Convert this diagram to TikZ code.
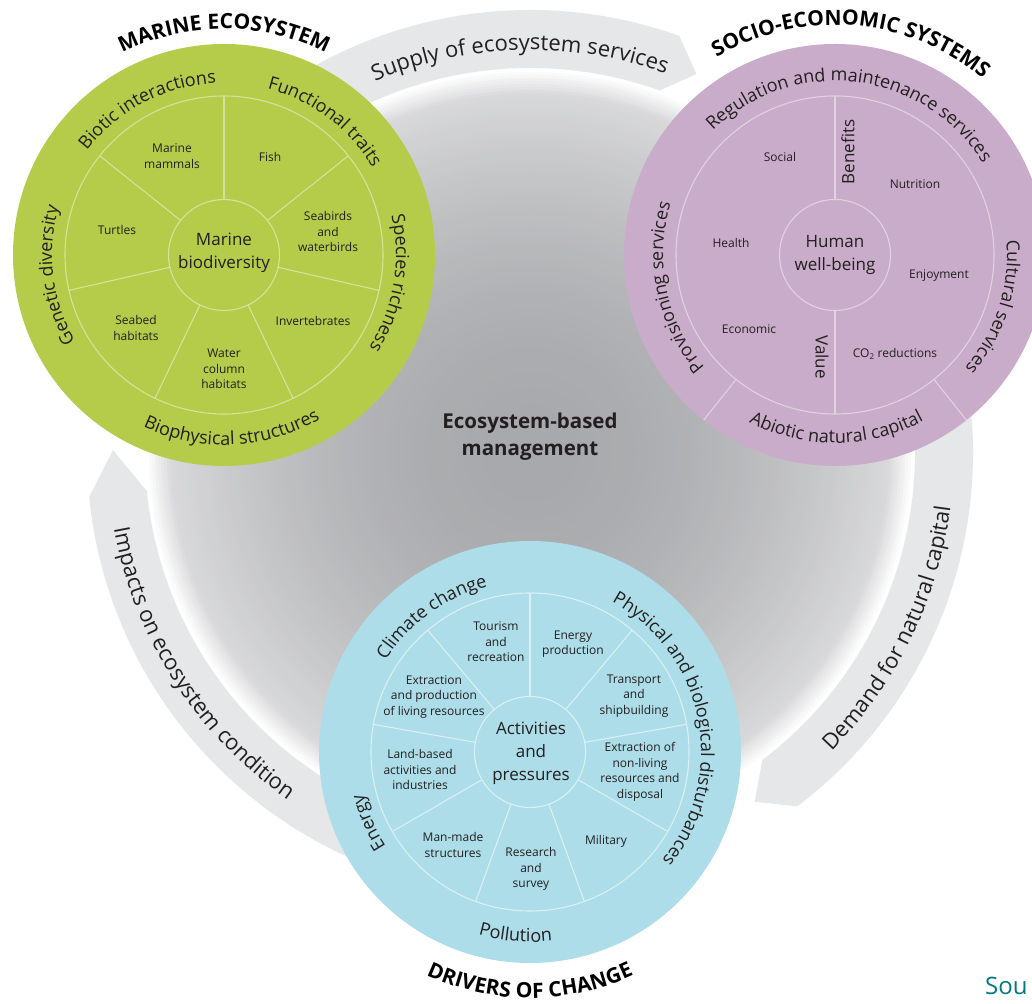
\documentclass[tikz,border=0pt]{standalone}
\usepackage{fontspec}
\setmainfont{Open Sans}
\usetikzlibrary{decorations.text}
\definecolor{ink}{RGB}{35,31,32}
\definecolor{mgreen}{RGB}{181,203,74}
\definecolor{mpink}{RGB}{201,172,201}
\definecolor{mblue}{RGB}{172,221,232}
\definecolor{bandgray}{RGB}{230,231,232}
\definecolor{ebmdark}{RGB}{168,169,172}
\definecolor{srcteal}{RGB}{0,122,128}
\newcommand{\fsSmall}{\fontsize{12}{15.5}\selectfont}
\newcommand{\fsCentre}{\fontsize{17}{23}\selectfont}
\newcommand{\fsRing}{\fontsize{18}{22}\selectfont}
\newcommand{\fsBand}{\fontsize{22}{26}\selectfont}
\newcommand{\fsHead}{\fontsize{21}{25}\selectfont\bfseries}
\newcommand{\fsEbm}{\fontsize{20.5}{27}\selectfont\bfseries}
% curved text: centre, radius, mid angle, half span, text
\newcommand{\cwtext}[5]{%
  \path[shift={(#1)}, decorate, decoration={text along path, text align=center, text={#5}}]
    ({#3+#4}:#2) arc[start angle={#3+#4}, end angle={#3-#4}, radius=#2];}
\newcommand{\ccwtext}[5]{%
  \path[shift={(#1)}, decorate, decoration={text along path, text align=center, text={#5}}]
    ({#3-#4}:#2) arc[start angle={#3-#4}, end angle={#3+#4}, radius=#2];}
\tikzset{
  disc/.style={circle, minimum size=422pt, inner sep=0pt, draw=none},
  inlab/.style={font=\fsSmall, text=ink, align=center, inner sep=0pt},
  ctrlab/.style={font=\fsCentre, text=ink, align=center, inner sep=0pt},
  band/.style={fill=bandgray, draw=none},
  gsep/.style={draw=mgreen!55!white, line width=1.1pt},
  psep/.style={draw=mpink!55!white, line width=1.1pt},
  bsep/.style={draw=mblue!45!white, line width=1.1pt},
}
\begin{document}
\begin{tikzpicture}[x=1pt, y=1pt]
\useasboundingbox (0,0) rectangle (1032,1003);
\fill[white] (0,0) rectangle (1032,1003);
\coordinate (C) at (530,550);
% gradient disc
\foreach \r in {387,384,...,3} {
  \pgfmathtruncatemacro\pp{\r<=360 ? 56*(\r/360)^2 : min(100, 56+44*(\r-360)/24)}
  \fill[white!\pp!ebmdark] (C) circle[radius=\r];
}
% bands (arrows)
\fill[band, shift={(C)}] (150:443) arc[start angle=150, end angle=70.3, radius=443]
  -- (66.3:414) -- (70.3:385) arc[start angle=70.3, end angle=150, radius=385] -- cycle;
\fill[band, shift={(C)}] (30:443) arc[start angle=30, end angle=-52.9, radius=443]
  -- (-57.2:415) -- (-52.9:385) arc[start angle=-52.9, end angle=30, radius=385] -- cycle;
\fill[band, shift={(C)}] (-90:443) arc[start angle=-90, end angle=-174.3, radius=443]
  -- (-180.4:417) -- (-174.3:385) arc[start angle=-174.3, end angle=-90, radius=385] -- cycle;
\cwtext{C}{403}{91.5}{35}{|\fsBand\color{ink}|Supply of ecosystem services}
\ccwtext{C}{424}{-26}{35}{|\fsBand\color{ink}|Demand for natural capital}
\ccwtext{C}{423}{212.7}{38}{|\fsBand\color{ink}|Impacts on ecosystem condition}
% discs
\node[disc, fill=mgreen] (G) at (224,748) {};
\node[disc, fill=mpink] (P) at (835,748) {};
\node[disc, fill=mblue] (B) at (530,251) {};
% green structure
\draw[gsep] (G) circle[radius=159];
\draw[gsep] (G) circle[radius=55.5];
\foreach \k in {0,...,6} {
  \draw[gsep, shift={(G)}] ({90-\k*360/7}:55.5) -- ({90-\k*360/7}:159);
}
% pink structure
\draw[psep] (P) circle[radius=159];
\draw[psep] (P) circle[radius=55.5];
\draw[psep, shift={(P)}] (90:55.5) -- (90:159);
\draw[psep, shift={(P)}] (270:55.5) -- (270:159);
\draw[psep, shift={(P)}] (-128.5:159) -- (-128.5:211);
\draw[psep, shift={(P)}] (-51.5:159) -- (-51.5:211);
% blue structure
\draw[bsep] (B) circle[radius=159];
\draw[bsep] (B) circle[radius=55.5];
\foreach \a in {90,50,10,-30,-70,-110,-150,170,130} {
  \draw[bsep, shift={(B)}] (\a:55.5) -- (\a:159);
}
% green labels
\node[ctrlab] (gctr) at (224,750) {Marine\\biodiversity};
\node[inlab] (gmam) at (172,847) {Marine\\mammals};
\node[inlab] (gfish) at (270,846) {Fish};
\node[inlab] (gbird) at (328,771) {Seabirds\\and\\waterbirds};
\node[inlab] (ginv) at (313,682) {Invertebrates};
\node[inlab] (gwat) at (224,634) {Water\\column\\habitats};
\node[inlab] (gsea) at (136,675) {Seabed\\habitats};
\node[inlab] (gtur) at (117,773) {Turtles};
\cwtext{G}{172}{117.7}{50}{|\fsRing\color{ink}|Biotic interactions}
\cwtext{G}{172}{52.9}{50}{|\fsRing\color{ink}|Functional traits}
\cwtext{G}{172}{-9.6}{50}{|\fsRing\color{ink}|Species richness}
\cwtext{G}{172}{187}{50}{|\fsRing\color{ink}|Genetic diversity}
\ccwtext{G}{190}{-87.4}{55}{|\fsRing\color{ink}|Biophysical structures}
\cwtext{G}{226}{90}{60}{|\fsHead\color{black}|MARINE ECOSYSTEM}
% pink labels
\node[ctrlab] (pctr) at (835,748) {Human\\well-being};
\node[inlab] (psoc) at (780,846) {Social};
\node[inlab, font=\fontsize{17}{20}\selectfont, rotate=90] (pben) at (848,851) {Benefits};
\node[inlab] (pnut) at (915,819) {Nutrition};
\node[inlab] (phea) at (731,760) {Health};
\node[inlab] (penj) at (939,727) {Enjoyment};
\node[inlab] (peco) at (749,674) {Economic};
\node[inlab, font=\fontsize{17}{20}\selectfont, rotate=-90] (pval) at (822,646) {Value};
\node[inlab] (pco2) at (895,649) {CO\textsubscript{2} reductions};
\cwtext{P}{174}{83.2}{70}{|\fsRing\color{ink}|Regulation and maintenance services}
\cwtext{P}{172}{191.7}{50}{|\fsRing\color{ink}|Provisioning services}
\cwtext{P}{172}{-18}{50}{|\fsRing\color{ink}|Cultural services}
\ccwtext{P}{188}{-89.5}{50}{|\fsRing\color{ink}|Abiotic natural capital}
\cwtext{P}{230}{85.5}{60}{|\fsHead\color{black}|SOCIO-ECONOMIC SYSTEMS}
% blue labels
\node[ctrlab] (bctr) at (531,250) {Activities\\and\\pressures};
\node[inlab] (btou) at (496,361) {Tourism\\and\\recreation};
\node[inlab] (bene) at (573,359) {Energy\\production};
\node[inlab] (btra) at (634,307) {Transport\\and\\shipbuilding};
\node[inlab] (bnon) at (640,231) {Extraction of\\non-living\\resources and\\disposal};
\node[inlab] (bmil) at (606,162) {Military};
\node[inlab] (bres) at (531,134) {Research\\and\\survey};
\node[inlab] (bman) at (453,158) {Man-made\\structures};
\node[inlab] (blan) at (420,233) {Land-based\\activities and\\industries};
\node[inlab] (bliv) at (434,306) {Extraction\\and production\\of living resources};
\cwtext{B}{171}{126}{45}{|\fsRing\color{ink}|Climate change}
\cwtext{B}{171}{11}{70}{|\fsRing\color{ink}|Physical and biological disturbances}
\cwtext{B}{172}{203.6}{30}{|\fsRing\color{ink}|Energy}
\ccwtext{B}{190}{-94.5}{40}{|\fsRing\color{ink}|Pollution}
\ccwtext{B}{246}{-90}{50}{|\fsHead\color{black}|DRIVERS OF CHANGE}
% centre text
\node[font=\fsEbm, text=ink, align=center, inner sep=0pt] (ebm) at (530,566.5) {Ecosystem-based\\management};
\node[font=\fontsize{24}{28}\selectfont, text=srcteal, anchor=base west, inner sep=0pt] (src) at (985,9) {Sou};
\end{tikzpicture}
\end{document}
